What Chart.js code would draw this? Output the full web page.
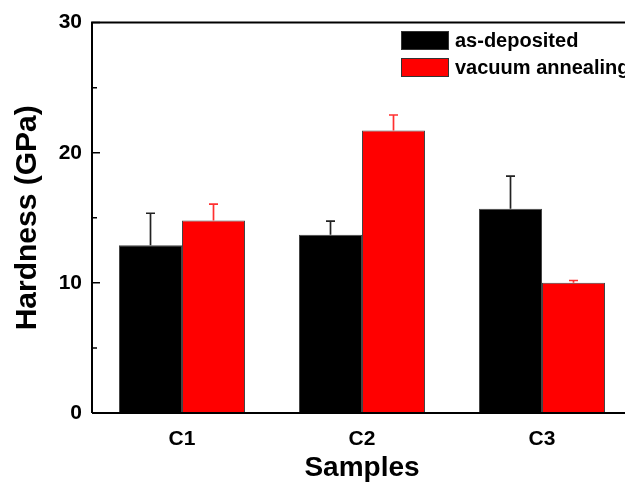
<!DOCTYPE html>
<html>
<head>
<meta charset="utf-8">
<script src="https://cdn.jsdelivr.net/npm/chart.js@4"></script>
<style>
  html, body { margin: 0; padding: 0; background: #fff; overflow: hidden; }
  #wrap { width: 640px; height: 483px; }
</style>
</head>
<body>
<div id="wrap"><canvas id="chart" width="640" height="483"></canvas></div>
<script>
// Samples and hardness values (GPa)
const samples = ['C1', 'C2', 'C3'];
const asDeposited = [12.9, 13.7, 15.7];
const asDepositedErr = [2.45, 1.05, 2.5];
const vacuumAnnealed = [14.8, 21.7, 10.0];
const vacuumAnnealedErr = [1.25, 1.2, 0.18];
const yTicks = [0, 10, 20, 30];
const yMinorTicks = [5, 15, 25];

const FONT = 'Liberation Sans, Arial, sans-serif';

// Error bars, inward ticks, top frame and legend
const extras = {
  id: 'extras',
  afterDatasetsDraw(chart) {
    const ctx = chart.ctx;
    const y = chart.scales.y;
    ctx.save();
    chart.data.datasets.forEach((ds, i) => {
      const meta = chart.getDatasetMeta(i);
      meta.data.forEach((bar, j) => {
        const top = y.getPixelForValue(ds.data[j] + ds.errors[j]);
        const base = y.getPixelForValue(ds.data[j]);
        ctx.strokeStyle = ds.errorColor;
        ctx.lineWidth = 1.7;
        ctx.beginPath();
        ctx.moveTo(bar.x, base);
        ctx.lineTo(bar.x, top);
        ctx.moveTo(bar.x - 4.5, top);
        ctx.lineTo(bar.x + 4.5, top);
        ctx.stroke();
      });
    });
    ctx.restore();
  },
  afterDraw(chart) {
    const ctx = chart.ctx;
    const area = chart.chartArea;
    const y = chart.scales.y;
    ctx.save();
    ctx.strokeStyle = '#000';
    ctx.lineWidth = 2;
    // frame
    ctx.beginPath();
    ctx.moveTo(area.left, area.bottom);
    ctx.lineTo(area.left, area.top);
    ctx.lineTo(area.right + 20, area.top);
    ctx.moveTo(area.left, area.bottom);
    ctx.lineTo(area.right + 20, area.bottom);
    ctx.stroke();
    // inward ticks
    ctx.lineWidth = 1.5;
    ctx.beginPath();
    yTicks.forEach(v => {
      const py = y.getPixelForValue(v);
      ctx.moveTo(area.left, py);
      ctx.lineTo(area.left + 8, py);
    });
    yMinorTicks.forEach(v => {
      const py = y.getPixelForValue(v);
      ctx.moveTo(area.left, py);
      ctx.lineTo(area.left + 5, py);
    });
    ctx.stroke();
    // legend
    ctx.font = 'bold 20px ' + FONT;
    ctx.textBaseline = 'middle';
    chart.data.datasets.forEach((ds, i) => {
      const ly = 31 + i * 27;
      ctx.fillStyle = ds.backgroundColor;
      ctx.fillRect(401, ly, 48, 19);
      ctx.strokeStyle = '#333';
      ctx.lineWidth = 1;
      ctx.strokeRect(401.5, ly + 0.5, 47, 18);
      ctx.fillStyle = '#000';
      ctx.fillText(ds.label, 455, ly + 10);
    });
    ctx.restore();
  }
};

new Chart(document.getElementById('chart'), {
  type: 'bar',
  data: {
    labels: samples,
    datasets: [
      {
        label: 'as-deposited',
        data: asDeposited,
        errors: asDepositedErr,
        errorColor: '#222',
        backgroundColor: '#000000',
        borderColor: '#444',
        borderWidth: 1
      },
      {
        label: 'vacuum annealing',
        data: vacuumAnnealed,
        errors: vacuumAnnealedErr,
        errorColor: '#ff3030',
        backgroundColor: '#ff0000',
        borderColor: '#444',
        borderWidth: 1
      }
    ]
  },
  options: {
    responsive: false,
    animation: false,
    layout: { padding: { top: 22, right: 8, left: 0, bottom: 0 } },
    datasets: { bar: { barPercentage: 1, categoryPercentage: 0.7 } },
    plugins: { legend: { display: false }, tooltip: { enabled: false } },
    scales: {
      x: {
        grid: { display: false, drawTicks: false },
        border: { display: false },
        ticks: {
          color: '#000',
          padding: 14,
          font: { family: FONT, size: 21, weight: 'bold' }
        },
        title: {
          display: true,
          text: 'Samples',
          color: '#000',
          padding: { top: 0, bottom: -2 },
          font: { family: FONT, size: 28, weight: 'bold' }
        },
        afterFit(scale) { scale.height = 70; }
      },
      y: {
        min: 0,
        max: 30,
        grid: { display: false, drawTicks: false },
        border: { display: false },
        ticks: {
          stepSize: 10,
          color: '#000',
          padding: 10,
          font: { family: FONT, size: 21, weight: 'bold' }
        },
        title: {
          display: true,
          text: 'Hardness (GPa)',
          color: '#000',
          padding: { top: 10, bottom: 0 },
          font: { family: FONT, size: 30, weight: 'bold' }
        },
        afterFit(scale) { scale.width = 92; }
      }
    }
  },
  plugins: [extras]
});
</script>
</body>
</html>
